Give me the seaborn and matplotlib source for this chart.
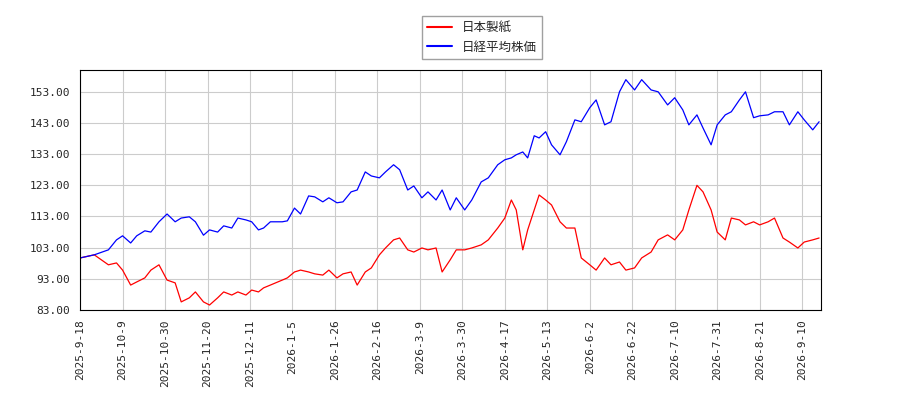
import matplotlib
matplotlib.use("Agg")
import matplotlib.pyplot as plt
import seaborn as sns
import pandas as pd
import numpy as np

dates = ["2025-09-18","2025-09-25","2025-10-02","2025-10-06","2025-10-09","2025-10-13","2025-10-16","2025-10-20","2025-10-23","2025-10-27","2025-10-31",
"2025-11-04","2025-11-07","2025-11-11","2025-11-14","2025-11-18","2025-11-21","2025-11-25","2025-11-28","2025-12-02","2025-12-05","2025-12-09","2025-12-12","2025-12-16","2025-12-19","2025-12-23","2025-12-30",
"2026-01-02","2026-01-06","2026-01-09","2026-01-13","2026-01-16","2026-01-20","2026-01-23","2026-01-27","2026-01-30","2026-02-03","2026-02-06","2026-02-10","2026-02-13","2026-02-17","2026-02-20","2026-02-24","2026-02-27",
"2026-03-03","2026-03-06","2026-03-10","2026-03-13","2026-03-17","2026-03-20","2026-03-24","2026-03-27","2026-03-31","2026-04-03","2026-04-07","2026-04-10","2026-04-14","2026-04-17","2026-04-21","2026-04-24","2026-04-28",
"2026-05-01","2026-05-05","2026-05-08","2026-05-12","2026-05-15","2026-05-19","2026-05-22","2026-05-26","2026-05-29","2026-06-02","2026-06-05","2026-06-09","2026-06-12","2026-06-16","2026-06-19","2026-06-23","2026-06-26","2026-06-30",
"2026-07-03","2026-07-07","2026-07-10","2026-07-14","2026-07-17","2026-07-21","2026-07-24","2026-07-28","2026-07-31","2026-08-04","2026-08-07","2026-08-11","2026-08-14","2026-08-18","2026-08-21","2026-08-25","2026-08-28",
"2026-09-01","2026-09-04","2026-09-08","2026-09-11","2026-09-15","2026-09-18"]

nikkei = [99.7,100.7,102.3,105.5,106.8,104.5,106.8,108.4,108.0,111.3,113.8,
111.3,112.5,112.9,111.3,107.0,108.7,108.0,110.0,109.3,112.5,111.9,111.3,108.7,109.3,111.3,111.3,
111.6,115.7,113.8,119.6,119.3,117.7,119.0,117.4,117.7,120.9,121.5,127.3,126.0,125.4,127.3,129.6,128.0,
121.5,122.8,119.0,120.9,118.3,121.5,115.1,119.0,115.1,118.3,124.1,125.4,129.6,131.2,131.8,132.8,133.7,
131.8,138.9,138.2,140.2,136.0,132.8,137.0,144.0,143.4,147.9,150.4,142.4,143.4,153.0,156.9,153.6,156.9,153.6,
153.0,148.8,151.1,147.2,142.4,145.6,141.4,136.0,142.4,145.6,146.6,150.4,153.0,144.7,145.3,145.6,146.6,
146.6,142.4,146.6,144.0,140.8,143.4]

nippon_paper = [99.7,100.7,97.5,98.1,95.8,91.0,92.0,93.3,95.8,97.5,92.6,
91.7,85.6,86.9,88.8,85.6,84.6,86.9,88.8,87.8,88.8,87.8,89.4,88.8,90.1,91.0,92.6,
93.3,95.2,95.8,95.2,94.6,94.2,95.8,93.3,94.6,95.2,91.0,95.2,96.5,100.7,102.9,105.5,106.1,
102.3,101.6,102.9,102.3,102.9,95.2,99.1,102.3,102.3,102.9,103.9,105.5,109.3,112.5,118.3,115.1,102.3,
108.7,115.1,119.9,118.3,116.7,111.3,109.3,109.3,99.7,97.5,95.8,99.7,97.5,98.4,95.8,96.5,99.7,101.6,
105.5,107.1,105.5,108.7,115.1,123.0,120.9,115.1,108.0,105.5,112.5,111.9,110.3,111.3,110.3,111.3,112.5,
106.1,104.8,102.9,104.8,105.5,106.1]

tick_dates = ["2025-09-18","2025-10-09","2025-10-30","2025-11-20","2025-12-11","2026-01-05","2026-01-26","2026-02-16",
              "2026-03-09","2026-03-30","2026-04-17","2026-05-13","2026-06-02","2026-06-22","2026-07-10","2026-07-31",
              "2026-08-21","2026-09-10"]
tick_labels = ["2025-9-18","2025-10-9","2025-10-30","2025-11-20","2025-12-11","2026-1-5","2026-1-26","2026-2-16",
               "2026-3-9","2026-3-30","2026-4-17","2026-5-13","2026-6-2","2026-6-22","2026-7-10","2026-7-31",
               "2026-8-21","2026-9-10"]

# map calendar dates onto the trading-day axis (ticks evenly spaced)
tk = pd.to_datetime(tick_dates).map(lambda d: d.toordinal()).to_numpy(dtype=float)
idx = np.arange(len(tk), dtype=float)
tk_ext = np.append(tk, tk[-1] + 20)
idx_ext = np.append(idx, idx[-1] + 1)
pos = np.interp(pd.to_datetime(dates).map(lambda d: d.toordinal()).to_numpy(dtype=float), tk_ext, idx_ext)

df = pd.DataFrame({"pos": pos, "日本製紙": nippon_paper, "日経平均株価": nikkei})
long = df.melt(id_vars="pos", var_name="series", value_name="value")

sns.set_style("white")
plt.rcParams['font.family'] = ['Noto Sans CJK JP', 'DejaVu Sans']

fig = plt.figure(figsize=(9, 4), dpi=100)
ax = fig.add_axes([0.089, 0.225, 0.823, 0.6])
sns.lineplot(data=long, x="pos", y="value", hue="series", palette={"日本製紙": "red", "日経平均株価": "blue"},
             linewidth=0.9, ax=ax, legend=False)

yt = [83, 93, 103, 113, 123, 133, 143, 153]
ax.set_ylim(83, 160)
ax.set_yticks(yt)
ax.set_yticklabels([f"{v:.2f}" for v in yt], fontsize=8, family='DejaVu Sans Mono')
ax.set_xticks(idx)
ax.set_xticklabels(tick_labels, rotation=90, fontsize=8, family='DejaVu Sans Mono')
ax.set_xlim(0, 17.44)
ax.grid(True, color="#cccccc", linewidth=0.8)
ax.set_xlabel("")
ax.set_ylabel("")
for s in ax.spines.values():
    s.set_color("black")
    s.set_linewidth(0.8)

from matplotlib.lines import Line2D
handles = [Line2D([], [], color="red"), Line2D([], [], color="blue")]
fig.legend(handles, ["日本製紙", "日経平均株価"], loc="upper center", bbox_to_anchor=(0.535, 0.975),
           fontsize=9, frameon=True, fancybox=False, edgecolor="#888888")

fig.savefig("out.png", dpi=100)
